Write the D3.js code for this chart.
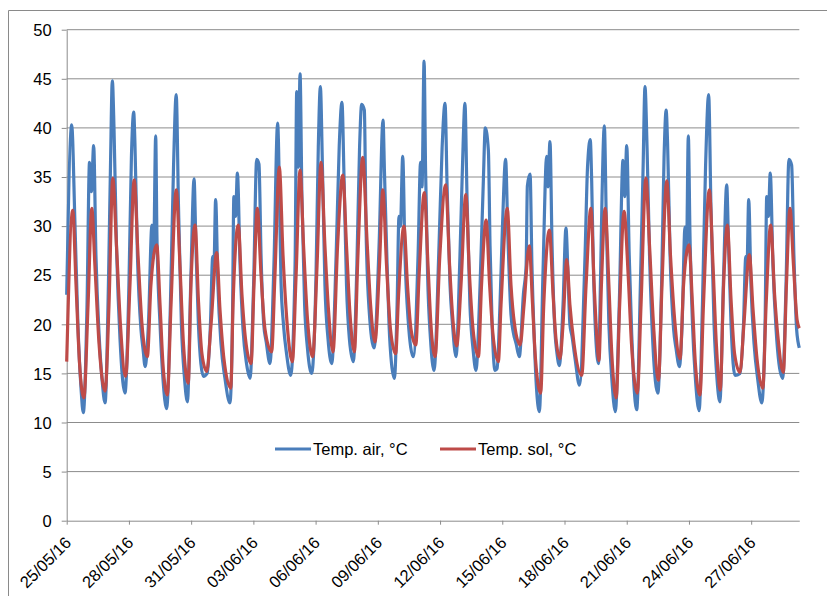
<!DOCTYPE html>
<html>
<head>
<meta charset="utf-8">
<script src="https://cdn.jsdelivr.net/npm/d3@7"></script>
<style>
  body { margin: 0; background: #fff; }
  svg text { font-family: "Liberation Sans", Arial, sans-serif; fill: #000; }
</style>
</head>
<body>
<div id="chart"></div>
<script>
// x tick labels (every 3 days) and y ticks
const tickLabels = ["25/05/16", "28/05/16", "31/05/16", "03/06/16", "06/06/16", "09/06/16",
                    "12/06/16", "15/06/16", "18/06/16", "21/06/16", "24/06/16", "27/06/16"];
const yTicks = [0, 5, 10, 15, 20, 25, 30, 35, 40, 45, 50];
const seriesNames = ["Temp. air, °C", "Temp. sol, °C"];

// [days since 25/05/16 00:00, °C]
const air = [
  [0.00,23.0],[0.24,40.3],[0.40,30.1],[0.54,20.0],[0.69,13.5],[0.80,11.0],
  [0.98,22.0],[1.10,36.5],[1.19,33.5],[1.30,38.2],[1.41,27.0],[1.56,19.0],[1.70,14.5],[1.85,12.0],
  [2.02,25.0],[2.11,36.0],[2.20,44.8],[2.28,40.0],[2.40,28.0],[2.57,18.5],[2.81,13.0],
  [3.00,24.0],[3.12,37.0],[3.23,41.6],[3.29,38.4],[3.41,27.0],[3.58,19.5],[3.68,17.5],[3.78,15.7],
  [3.94,20.0],[4.11,30.1],[4.19,27.0],[4.29,39.2],[4.35,29.0],[4.50,20.0],[4.64,14.5],[4.82,11.4],
  [5.00,22.0],[5.15,36.0],[5.28,43.4],[5.39,32.0],[5.53,20.0],[5.68,14.5],[5.82,12.1],
  [5.99,25.0],[6.14,34.8],[6.23,28.0],[6.35,20.0],[6.47,16.0],[6.59,14.7],[6.77,15.0],
  [6.93,20.0],[7.04,26.9],[7.10,26.0],[7.18,32.7],[7.29,24.0],[7.44,18.0],[7.63,14.5],[7.87,12.0],
  [7.99,20.0],[8.06,33.0],[8.14,31.0],[8.23,35.4],[8.36,26.0],[8.50,19.5],[8.67,16.0],[8.84,14.5],
  [9.01,24.0],[9.16,36.8],[9.27,36.3],[9.37,27.0],[9.50,20.0],[9.62,18.2],[9.80,16.0],
  [9.99,26.0],[10.17,40.5],[10.26,33.0],[10.33,24.5],[10.45,20.0],[10.60,17.0],[10.80,14.8],
  [11.01,26.0],[11.09,43.7],[11.17,36.0],[11.25,45.5],[11.34,33.0],[11.47,22.0],[11.61,17.5],[11.81,15.0],
  [12.02,25.0],[12.13,38.0],[12.23,44.2],[12.33,36.0],[12.45,24.0],[12.60,18.5],[12.78,16.0],
  [12.99,27.0],[13.14,38.2],[13.27,42.6],[13.37,35.0],[13.49,24.0],[13.63,18.5],[13.82,16.2],
  [13.99,26.0],[14.12,38.0],[14.22,42.4],[14.35,41.8],[14.43,30.0],[14.58,21.5],[14.82,17.6],
  [15.06,28.0],[15.25,40.8],[15.32,35.5],[15.42,28.0],[15.54,20.0],[15.66,16.0],[15.80,14.5],
  [15.93,22.0],[16.02,31.0],[16.09,30.0],[16.20,37.1],[16.31,27.0],[16.46,20.5],[16.71,16.7],
  [16.94,27.0],[17.06,36.5],[17.13,34.0],[17.23,46.8],[17.30,36.0],[17.40,25.0],[17.54,18.5],[17.71,15.3],
  [17.95,28.0],[18.10,38.0],[18.24,42.5],[18.34,34.0],[18.48,24.0],[18.60,20.0],[18.77,16.7],
  [18.96,27.0],[19.08,36.0],[19.20,42.5],[19.30,33.0],[19.44,22.0],[19.59,17.5],[19.73,15.3],
  [19.93,24.0],[20.09,34.8],[20.18,40.0],[20.33,37.7],[20.41,28.0],[20.51,20.0],[20.65,15.3],[20.75,15.5],
  [20.89,22.0],[21.01,30.0],[21.16,36.8],[21.27,29.0],[21.42,21.0],[21.53,19.2],[21.67,18.0],[21.82,16.7],
  [22.02,23.1],[22.15,26.0],[22.21,34.1],[22.34,35.3],[22.43,26.0],[22.55,18.0],[22.65,13.5],[22.79,11.1],
  [22.96,25.0],[23.14,37.1],[23.20,34.0],[23.30,38.6],[23.40,28.0],[23.52,20.0],[23.64,17.0],[23.75,15.8],
  [23.93,22.0],[24.07,29.8],[24.17,25.0],[24.26,20.0],[24.36,18.8],[24.51,16.5],[24.72,13.8],
  [24.99,27.0],[25.11,36.0],[25.24,38.8],[25.31,34.6],[25.38,27.0],[25.50,19.0],[25.64,16.0],
  [25.74,25.0],[25.81,33.0],[25.92,40.2],[26.02,30.0],[26.14,20.0],[26.28,14.5],[26.45,11.1],
  [26.64,22.0],[26.82,36.7],[26.90,33.0],[27.00,38.2],[27.12,27.0],[27.24,19.0],[27.33,14.5],[27.48,11.3],
  [27.67,25.0],[27.79,36.0],[27.88,44.2],[27.98,38.0],[28.10,27.0],[28.26,18.0],[28.50,13.0],
  [28.68,24.0],[28.80,37.0],[28.90,41.8],[28.97,38.4],[29.09,27.0],[29.26,19.5],[29.38,17.5],[29.54,15.7],
  [29.67,20.0],[29.81,29.9],[29.88,27.0],[29.97,39.2],[30.05,29.0],[30.17,20.0],[30.31,14.5],[30.49,11.2],
  [30.65,22.0],[30.80,36.0],[30.95,43.4],[31.06,32.0],[31.21,20.0],[31.35,14.5],[31.49,12.1],
  [31.67,25.0],[31.82,34.2],[31.91,28.0],[32.03,20.0],[32.13,16.0],[32.22,14.8],[32.46,15.0],
  [32.63,20.0],[32.74,26.9],[32.80,26.0],[32.88,32.7],[32.99,24.0],[33.14,18.0],[33.31,14.5],[33.51,12.0],
  [33.67,20.0],[33.75,33.0],[33.83,31.0],[33.92,35.4],[34.05,26.0],[34.20,19.5],[34.34,16.0],[34.52,14.5],
  [34.68,24.0],[34.82,36.8],[34.95,36.2],[35.06,27.0],[35.19,19.5],[35.26,18.2],[35.32,17.6]
];

const soil = [
  [0.00,16.2],[0.29,31.6],[0.45,24.0],[0.62,16.0],[0.83,12.5],
  [1.03,22.0],[1.21,31.8],[1.36,26.0],[1.56,18.0],[1.85,13.2],
  [2.04,22.0],[2.22,34.9],[2.40,28.0],[2.59,20.0],[2.84,14.7],
  [3.05,24.0],[3.25,34.7],[3.44,27.0],[3.63,20.0],[3.89,16.7],
  [4.06,24.0],[4.34,28.1],[4.50,22.0],[4.64,16.0],[4.85,12.8],
  [5.03,22.0],[5.28,33.7],[5.46,26.0],[5.63,18.0],[5.86,14.0],
  [5.99,24.0],[6.19,30.1],[6.35,22.5],[6.52,17.0],[6.75,15.2],
  [6.96,20.0],[7.23,27.3],[7.39,21.5],[7.58,16.5],[7.91,13.5],
  [8.02,22.0],[8.27,30.1],[8.45,23.0],[8.62,18.5],[8.89,16.0],
  [9.03,24.0],[9.19,31.8],[9.37,25.0],[9.56,19.5],[9.88,17.2],
  [10.04,25.0],[10.25,36.0],[10.43,27.0],[10.63,20.0],[10.88,16.2],
  [11.06,25.0],[11.25,35.7],[11.42,28.0],[11.61,20.5],[11.86,16.7],
  [12.07,26.0],[12.26,36.5],[12.45,28.0],[12.62,21.5],[12.84,17.2],
  [13.06,28.0],[13.31,35.2],[13.49,28.0],[13.66,21.0],[13.87,17.2],
  [14.04,27.0],[14.27,37.0],[14.48,28.5],[14.65,22.0],[14.86,18.2],
  [15.08,26.0],[15.24,33.7],[15.42,26.0],[15.61,19.5],[15.86,17.0],
  [16.00,23.0],[16.26,30.0],[16.43,24.0],[16.60,19.5],[16.83,17.9],
  [16.99,25.0],[17.24,33.4],[17.42,26.0],[17.56,20.0],[17.76,16.7],
  [17.99,27.0],[18.27,34.2],[18.46,26.0],[18.60,21.0],[18.80,17.8],
  [19.01,24.0],[19.24,33.2],[19.42,25.0],[19.59,19.5],[19.85,16.7],
  [20.00,24.0],[20.22,30.6],[20.39,24.0],[20.55,19.0],[20.81,16.2],
  [20.94,22.0],[21.24,31.8],[21.42,24.0],[21.59,20.0],[21.86,17.9],
  [22.05,22.0],[22.30,28.0],[22.46,22.0],[22.60,16.5],[22.85,13.0],
  [23.00,22.0],[23.27,29.6],[23.45,23.0],[23.59,18.5],[23.78,16.5],
  [23.93,20.0],[24.11,26.6],[24.26,22.0],[24.46,18.0],[24.83,14.8],
  [25.04,24.0],[25.27,31.8],[25.43,24.0],[25.55,19.0],[25.66,16.3],
  [25.78,24.0],[25.96,31.8],[26.14,24.0],[26.28,17.0],[26.49,12.5],
  [26.66,22.0],[26.87,31.5],[27.07,25.0],[27.23,18.0],[27.51,13.0],
  [27.69,22.0],[27.92,34.9],[28.10,28.0],[28.29,20.0],[28.53,14.3],
  [28.70,24.0],[28.93,34.6],[29.11,27.0],[29.33,20.0],[29.57,16.5],
  [29.74,24.0],[30.00,28.1],[30.17,22.0],[30.31,16.0],[30.53,12.8],
  [30.70,22.0],[30.98,33.7],[31.16,26.0],[31.32,18.0],[31.51,13.3],
  [31.67,24.0],[31.85,30.1],[32.03,22.5],[32.20,17.0],[32.46,15.1],
  [32.65,20.0],[32.91,27.1],[33.09,21.5],[33.28,16.5],[33.56,13.5],
  [33.72,22.0],[33.94,30.1],[34.13,23.0],[34.30,18.5],[34.55,15.1],
  [34.70,24.0],[34.87,31.8],[35.04,26.0],[35.21,20.5],[35.32,19.6]
];

const w = 827, h = 596;
const plotLeft = 66.7, plotRight = 799.3, plotTop = 29.7, plotBottom = 520.7;
const colors = ["#4a7ebb", "#be4b48"];
const fontSize = "16.5px";

const parseTick = d3.timeParse("%d/%m/%y");
const start = parseTick(tickLabels[0]);
const toDate = d => new Date(start.getTime() + d * 864e5);

const svg = d3.select("#chart").append("svg")
  .attr("width", w)
  .attr("height", h);

// chart frame (cut off at right and bottom)
svg.append("path")
   .attr("d", `M8.5,${h + 5}V10.5H${w + 5}`)
   .attr("fill", "none")
   .attr("stroke", "#8a8a8a")
   .attr("stroke-width", 1);

const xScale = d3.scaleTime()
  .domain([start, toDate(air[air.length - 1][0])])
  .range([plotLeft, plotRight]);

const yScale = d3.scaleLinear()
  .domain([0, 50])
  .range([plotBottom, plotTop]);

// gridlines
svg.append("g")
   .selectAll("line")
   .data(yTicks.slice(1))
   .enter()
   .append("line")
   .attr("x1", plotLeft)
   .attr("x2", plotRight)
   .attr("y1", d => yScale(d))
   .attr("y2", d => yScale(d))
   .attr("stroke", "#8c8c8c")
   .attr("stroke-width", 1);

const yAxis = d3.axisLeft(yScale)
  .tickValues(yTicks)
  .tickSize(5)
  .tickSizeOuter(0)
  .tickPadding(10);

const yg = svg.append("g")
  .attr("transform", `translate(${plotLeft},0)`)
  .call(yAxis);
yg.selectAll("path, line").attr("stroke", "#8c8c8c");
yg.selectAll("text").style("font-size", fontSize).attr("dy", "0.35em");

const xAxis = d3.axisBottom(xScale)
  .tickValues(tickLabels.map(parseTick))
  .tickFormat(d3.timeFormat("%d/%m/%y"))
  .tickSize(4)
  .tickSizeOuter(0);

const xg = svg.append("g")
  .attr("transform", `translate(0,${plotBottom})`)
  .call(xAxis);
xg.selectAll("path, line").attr("stroke", "#8c8c8c");
xg.selectAll("text")
  .style("font-size", fontSize)
  .attr("text-anchor", "end")
  .attr("x", 0).attr("y", 0).attr("dy", 0)
  .attr("transform", "translate(5,23) rotate(-45)");

const line = d3.line()
  .x(d => xScale(toDate(d[0])))
  .y(d => yScale(d[1]))
  .curve(d3.curveMonotoneX);

[air, soil].forEach((s, i) => {
  svg.append("path")
     .datum(s)
     .attr("fill", "none")
     .attr("stroke", colors[i])
     .attr("stroke-width", 3.2)
     .attr("stroke-linejoin", "round")
     .attr("d", line);
});

// legend
const legendX = [275, 440];
const legend = svg.append("g");
seriesNames.forEach((name, i) => {
  legend.append("line")
        .attr("x1", legendX[i]).attr("x2", legendX[i] + 36)
        .attr("y1", 449).attr("y2", 449)
        .attr("stroke", colors[i])
        .attr("stroke-width", 3.2);
  legend.append("text")
        .attr("x", legendX[i] + 38)
        .attr("y", 455)
        .style("font-size", fontSize)
        .text(name);
});
</script>
</body>
</html>
